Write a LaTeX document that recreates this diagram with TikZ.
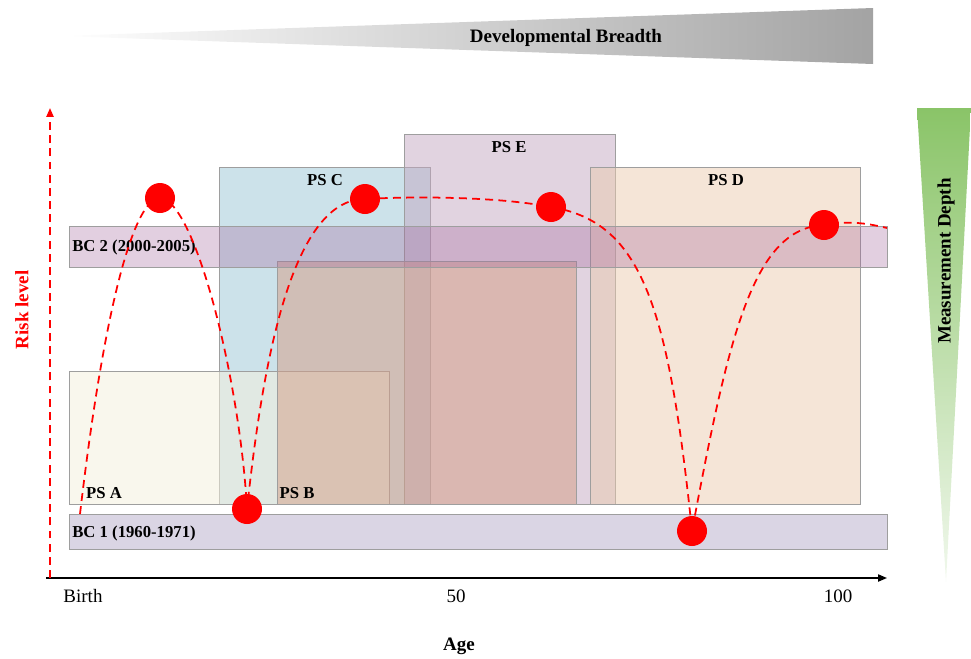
\documentclass[tikz,border=0pt]{standalone}
\usepackage{fontspec}
\setmainfont{Liberation Serif}
\usetikzlibrary{positioning}
\usetikzlibrary{arrows.meta}

\definecolor{psa}{RGB}{244,240,221}
\definecolor{psb}{RGB}{212,159,135}
\definecolor{psc}{RGB}{153,197,213}
\definecolor{psd}{RGB}{235,203,175}
\definecolor{pse}{RGB}{195,167,193}
\definecolor{bctwo}{RGB}{160,95,153}
\definecolor{bcone}{RGB}{218,213,228}
\definecolor{depthgreen}{RGB}{138,196,104}

\begin{document}
\begin{tikzpicture}[x=0.2mm,y=-0.2mm,
  box/.style={draw=black!38,line width=0.5pt},
  boxlabel/.style={font=\fontsize{9.5}{11}\selectfont\bfseries,inner sep=0pt},
  ticklabel/.style={font=\fontsize{10.8}{13}\selectfont,inner sep=0pt},
  title/.style={font=\fontsize{10.8}{13}\selectfont\bfseries,inner sep=0pt},
  dot/.style={circle,fill=red,inner sep=0pt,minimum size=6mm},
  riskline/.style={red,line width=1pt,dash pattern=on 4.5pt off 3pt}]
\useasboundingbox (0,0) rectangle (971,659);

\shade[left color=white,right color=black!36] (60,36) -- (873,8) -- (873,64) -- cycle;
\node[title] (breadth) at (566,38) {Developmental Breadth};
\shade[top color=depthgreen,bottom color=depthgreen!12] (917,108) -- (971,108) -- (946,582) -- cycle;
\node[title,rotate=90] (depth) at (946,261) {Measurement Depth};

\filldraw[box,fill=psc,fill opacity=0.5] (219,167) rectangle (430,504);
\filldraw[box,fill=psa,fill opacity=0.53] (69,371) rectangle (389,504);
\filldraw[box,fill=pse,fill opacity=0.5] (404,134) rectangle (615,504);
\filldraw[box,fill=psd,fill opacity=0.5] (590,167) rectangle (860,504);
\filldraw[box,fill=psb,fill opacity=0.52] (277,261) rectangle (576,504);
\filldraw[box,fill=bctwo,fill opacity=0.3] (69,226) rectangle (887,267);
\filldraw[box,fill=bcone] (69,514) rectangle (887,549);

\node[boxlabel] (psA) at (104,493) {PS A};
\node[boxlabel] (psB) at (297,493) {PS B};
\node[boxlabel] (psC) at (325,180) {PS C};
\node[boxlabel] (psE) at (509,147) {PS E};
\node[boxlabel] (psD) at (726,180) {PS D};
\node[boxlabel,anchor=west] (bc2) at (72,247) {BC 2 (2000-2005)};
\node[boxlabel,anchor=west] (bc1) at (72,533) {BC 1 (1960-1971)};

\coordinate (origin) at (46,578);
\coordinate (xend) at (887,578);
\coordinate (ybase) at (50,578);
\coordinate (ytop) at (50,108);
\draw[line width=0.9pt,-{Triangle[length=5pt,width=4pt]}] (origin) -- (xend);
\draw[riskline,-{Triangle[length=5pt,width=4pt]}] (ybase) -- (ytop);

\node[ticklabel] (birth) at (83,596) {Birth};
\node[ticklabel] (fifty) at (456,596) {50};
\node[ticklabel] (hundred) at (838,596) {100};
\node[title] (age) at (459,646) {Age};
\node[title,text=red,rotate=90] (risk) at (22,310) {Risk level};

\node[dot] (d1) at (160,198) {};
\node[dot] (d2) at (247,509) {};
\node[dot] (d3) at (365,199) {};
\node[dot] (d4) at (551,207) {};
\node[dot] (d5) at (692,531) {};
\node[dot] (d6) at (824,225) {};
\coordinate (c0) at (80,514);
\coordinate (c7) at (887,228);

\draw[riskline] (c0) .. controls (105,300) and (135,198) .. (d1.center)
  .. controls (195,200) and (240,380) .. (d2.center)
  .. controls (262,370) and (290,199) .. (d3.center)
  .. controls (420,196) and (500,197) .. (d4.center)
  .. controls (640,222) and (668,300) .. (d5.center)
  .. controls (728,340) and (752,228) .. (d6.center)
  .. controls (850,220) and (870,224) .. (c7);
\end{tikzpicture}
\end{document}
